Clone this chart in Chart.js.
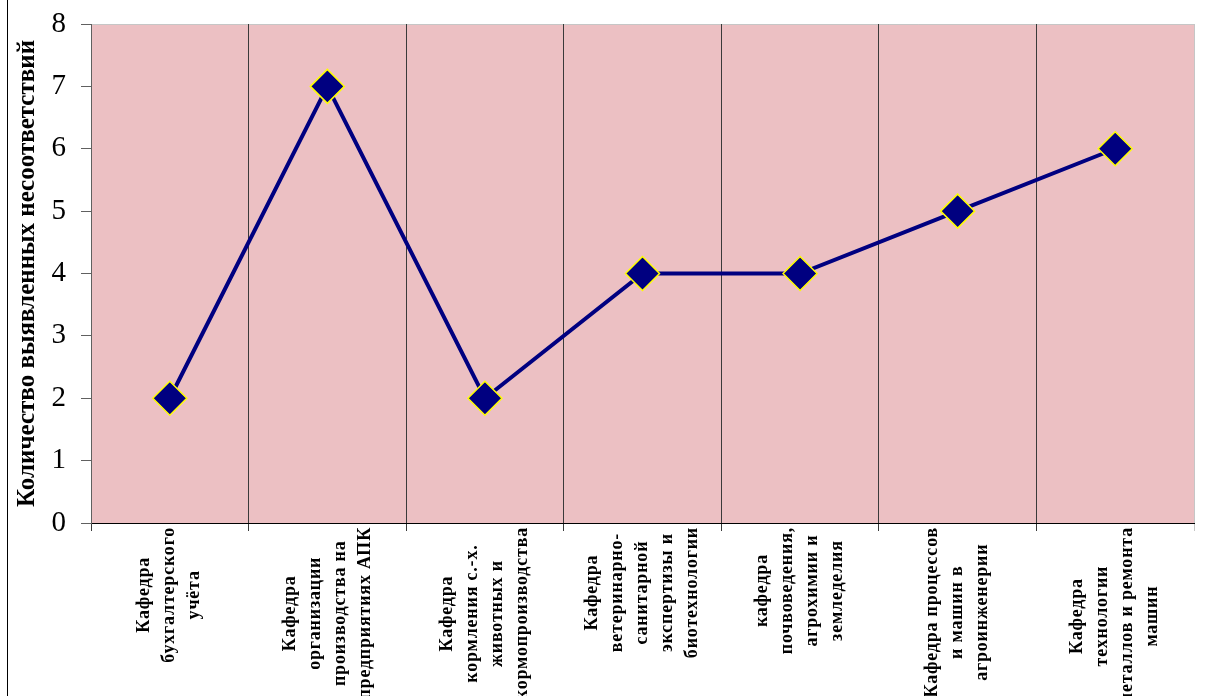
<!DOCTYPE html>
<html>
<head>
<meta charset="utf-8">
<script src="https://cdn.jsdelivr.net/npm/chart.js@4"></script>
<style>
  body { margin: 0; background: #fff; }
  canvas { display: block; }
</style>
</head>
<body>
<canvas id="chart" width="1221" height="696"></canvas>
<script>
// data
const categories = [
  ['Кафедра', 'бухгалтерского', 'учёта'],
  ['Кафедра', 'организации', 'производства на', 'предприятиях АПК'],
  ['Кафедра', 'кормления с.-х.', 'животных и', 'кормопроизводства'],
  ['Кафедра', 'ветеринарно-', 'санитарной', 'экспертизы и', 'биотехнологии'],
  ['кафедра', 'почвоведения,', 'агрохимии и', 'земледелия'],
  ['Кафедра процессов', 'и машин в', 'агроинженерии'],
  ['Кафедра', 'технологии', 'металлов и ремонта', 'машин']
];
const values = [2, 7, 2, 4, 4, 5, 6];
const yMin = 0, yMax = 8, yStep = 1;
const yTitle = 'Количество выявленных несоответствий';

const serif = '"Liberation Serif", "Times New Roman", serif';
Chart.defaults.font.family = serif;
Chart.defaults.color = '#000';

// pink plot background + light border on top/right, frame line at left
const plotBg = {
  id: 'plotBg',
  beforeDraw(chart) {
    const {ctx, chartArea: a} = chart;
    ctx.save();
    ctx.fillStyle = '#ecc0c3';
    ctx.fillRect(a.left, a.top, a.right - a.left, a.bottom - a.top);
    ctx.strokeStyle = '#c6c6c6';
    ctx.lineWidth = 1;
    ctx.beginPath();
    ctx.moveTo(a.left, a.top + 0.5);
    ctx.lineTo(a.right + 0.5, a.top + 0.5);
    ctx.lineTo(a.right + 0.5, a.bottom);
    ctx.stroke();
    ctx.fillStyle = '#000';
    ctx.fillRect(7, 0, 1, chart.height);
    ctx.restore();
  }
};

// rotated, centred multi-line category labels (Excel style)
const catLabels = {
  id: 'catLabels',
  afterDraw(chart) {
    const {ctx} = chart;
    const xs = chart.scales.x;
    const top = xs.top + 4;
    const lh = 25;
    ctx.save();
    ctx.font = 'bold 18px ' + serif;
    if ('letterSpacing' in ctx) ctx.letterSpacing = '0.8px';
    ctx.fillStyle = '#000';
    ctx.textAlign = 'center';
    ctx.textBaseline = 'middle';
    categories.forEach((lines, i) => {
      const w = Math.max(...lines.map(l => ctx.measureText(l).width));
      const cx = xs.getPixelForValue(i);
      ctx.save();
      ctx.translate(cx, top + w / 2);
      ctx.rotate(-Math.PI / 2);
      lines.forEach((l, j) => {
        ctx.fillText(l, 0, (j - (lines.length - 1) / 2) * lh);
      });
      ctx.restore();
    });
    ctx.restore();
  }
};

new Chart(document.getElementById('chart'), {
  type: 'line',
  data: {
    labels: categories.map(c => c.join(' ')),
    datasets: [{
      data: values,
      borderColor: '#000080',
      borderWidth: 4,
      tension: 0,
      pointStyle: 'rectRot',
      pointRadius: 17,
      pointHoverRadius: 17,
      pointBackgroundColor: '#000080',
      pointBorderColor: '#ffff00',
      pointBorderWidth: 1.5,
      clip: false
    }]
  },
  options: {
    responsive: false,
    animation: false,
    layout: { padding: { top: 24, right: 27, left: 0, bottom: 0 } },
    plugins: { legend: { display: false }, tooltip: { enabled: false } },
    scales: {
      x: {
        offset: true,
        afterFit: s => { s.height = 173; s.paddingLeft = 0; s.paddingRight = 0; },
        ticks: { display: false },
        grid: {
          offset: true,
          drawOnChartArea: true,
          drawTicks: true,
          tickLength: 8,
          color: c => c.type === 'tick' ? '#3a3a3a' : '#c6c6c6',
          lineWidth: 1
        },
        border: { color: '#000', width: 1 }
      },
      y: {
        min: yMin,
        max: yMax,
        afterFit: s => { s.width = 91; s.paddingTop = 0; s.paddingBottom = 0; },
        ticks: { stepSize: yStep, padding: 15, font: { size: 29 } },
        grid: { drawOnChartArea: false, drawTicks: true, tickLength: 10, color: '#606060' },
        border: { color: '#606060', width: 1 },
        title: {
          display: true,
          text: yTitle,
          font: { size: 25, weight: 'bold' },
          padding: { top: 13, bottom: 0 }
        }
      }
    }
  },
  plugins: [plotBg, catLabels]
});
</script>
</body>
</html>
